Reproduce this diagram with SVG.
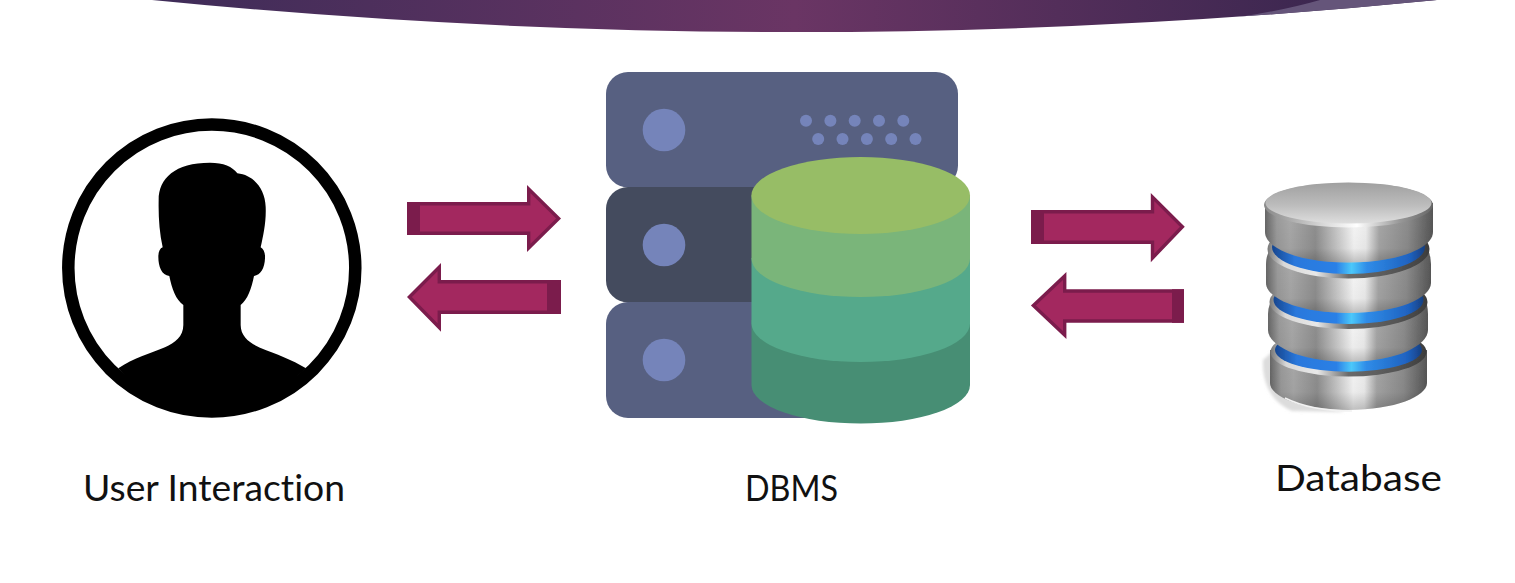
<svg xmlns="http://www.w3.org/2000/svg" width="1515" height="583" viewBox="0 0 1515 583">
<style>
.label{font-family:"Lato","Liberation Sans",sans-serif;font-size:36px;fill:#111;font-variant-ligatures:none}
.arrow{fill:#a3285f;stroke:#7b1c4c;stroke-width:3.4;stroke-linejoin:miter;stroke-miterlimit:6}
.block{fill:#7b1c4c}
.srv{fill:#576081}
.srvd{fill:#444b5e}
.led{fill:#7584ba}
.metal{fill:url(#metal)}
.blue{fill:url(#blue)}
.rim{fill:url(#rim)}
.shade{fill:url(#shade)}
</style>
<defs>
<linearGradient id="band" gradientUnits="userSpaceOnUse" x1="152" y1="0" x2="1320" y2="0">
<stop offset="0" stop-color="#3e2c58"/><stop offset=".55" stop-color="#6a3564"/><stop offset="1" stop-color="#3c2750"/>
</linearGradient>
<clipPath id="bandclip"><path d="M152,0 Q795,64 1437,0 Z"/></clipPath>
<linearGradient id="metal" x1="0" x2="1" y1="0" y2="0">
<stop offset="0" stop-color="#666"/><stop offset=".07" stop-color="#9a9a9a"/><stop offset=".15" stop-color="#a8a8a8"/><stop offset=".3" stop-color="#8f8f8f"/><stop offset=".42" stop-color="#c4c4c4"/><stop offset=".53" stop-color="#f6f6f6"/><stop offset=".6" stop-color="#eeeeee"/><stop offset=".68" stop-color="#a6a6a6"/><stop offset=".85" stop-color="#8c8c8c"/><stop offset="1" stop-color="#565656"/>
</linearGradient>
<linearGradient id="shade" x1="0" x2="0" y1="0" y2="1">
<stop offset="0" stop-color="#000" stop-opacity="0"/><stop offset=".7" stop-color="#000" stop-opacity=".04"/><stop offset="1" stop-color="#000" stop-opacity=".22"/>
</linearGradient>
<linearGradient id="blue" x1="0" x2="1" y1="0" y2="0">
<stop offset="0" stop-color="#17468f"/><stop offset=".15" stop-color="#2a78dc"/><stop offset=".42" stop-color="#2b80e6"/><stop offset=".52" stop-color="#4cc8fa"/><stop offset=".62" stop-color="#2f8ce8"/><stop offset=".9" stop-color="#1f62c0"/><stop offset="1" stop-color="#173f80"/>
</linearGradient>
<linearGradient id="rim" x1="0" x2="1" y1="0" y2="0">
<stop offset="0" stop-color="#777"/><stop offset=".1" stop-color="#d8d8d8"/><stop offset=".3" stop-color="#e8e8e8"/><stop offset=".5" stop-color="#6a6a6a"/><stop offset=".8" stop-color="#555"/><stop offset="1" stop-color="#3c3c3c"/>
</linearGradient>
<linearGradient id="disk" x1="0" x2="0" y1="0" y2="1">
<stop offset="0" stop-color="#a0a0a0"/><stop offset=".55" stop-color="#bcbcbc"/><stop offset="1" stop-color="#dedede"/>
</linearGradient>
<linearGradient id="diskrim" x1="0" x2="1" y1="0" y2="0">
<stop offset="0" stop-color="#888"/><stop offset=".35" stop-color="#d8d8d8"/><stop offset=".55" stop-color="#ffffff"/><stop offset=".8" stop-color="#999"/><stop offset="1" stop-color="#666"/>
</linearGradient>
<filter id="soft" x="-5%" y="-5%" width="110%" height="110%"><feGaussianBlur stdDeviation=".7"/></filter>
<filter id="softer" x="-10%" y="-10%" width="120%" height="120%"><feGaussianBlur stdDeviation="1.500"/></filter>
</defs>

<rect width="1515" height="583" fill="#fff"/>

<g id="banner">
<path d="M152,0 Q795,64 1437,0 Z" fill="url(#band)"/>
<path clip-path="url(#bandclip)" d="M1320,0 Q1275,13 1205,22 L1300,30 L1500,0 Z" fill="#65557a"/>
</g>

<g id="node-user">
<circle cx="211.800" cy="268" r="143.500" fill="#fff" stroke="#000" stroke-width="12.500"/>
<path transform="translate(50 110) scale(.33333)" fill="#000" d="M205,775 C250,745 300,730 345,712 C375,698 400,680 400,645 L400,585 C378,570 365,535 358,498 C335,495 325,470 325,440 C325,425 330,415 338,412 C328,365 325,320 326,270 C326,205 375,158 480,158 C520,158 548,170 562,190 C610,195 645,235 647,290 C649,335 640,375 632,412 C642,418 646,430 645,445 C644,475 632,495 612,498 C605,535 592,570 572,585 L572,645 C572,680 600,700 630,713 C680,733 725,748 768,775 C680,860 580,920 485,920 C380,920 280,860 205,775 Z"/>
<text class="label" x="83" y="501" textLength="262" lengthAdjust="spacingAndGlyphs">User Interaction</text>
</g>

<g id="node-dbms">
<rect class="srv" x="606" y="72" width="352" height="115.500" rx="22"/>
<rect class="srvd" x="606" y="187" width="352" height="115.500" rx="22"/>
<path class="srv" d="M628,302 H860 V418 H628 A22,22 0 0 1 606,396 V324 A22,22 0 0 1 628,302 Z"/>
<circle class="led" cx="664" cy="130" r="21.300"/>
<circle class="led" cx="664" cy="245" r="21.300"/>
<circle class="led" cx="664" cy="360" r="21.300"/>
<g class="led">
<circle cx="806" cy="120.700" r="6"/><circle cx="830.400" cy="120.700" r="6"/><circle cx="854.700" cy="120.700" r="6"/><circle cx="879" cy="120.700" r="6"/><circle cx="903.300" cy="120.700" r="6"/>
<circle cx="818.200" cy="139" r="6"/><circle cx="842.500" cy="139" r="6"/><circle cx="866.900" cy="139" r="6"/><circle cx="891.200" cy="139" r="6"/><circle cx="915.500" cy="139" r="6"/>
</g>
<path fill="#478e74" d="M751.500,320 H970 V385 A109,38.500 0 0 1 751.500,385 Z"/>
<path fill="#55a98b" d="M751.500,258 H970 V323.500 A109,38.500 0 0 1 751.500,323.500 Z"/>
<path fill="#7ab57a" d="M751.500,195.500 H970 V258.500 A109,38.500 0 0 1 751.500,258.500 Z"/>
<ellipse fill="#97bd66" cx="860.700" cy="195.500" rx="109.300" ry="38.500"/>
<text class="label" x="745" y="501" textLength="93" lengthAdjust="spacingAndGlyphs">DBMS</text>
</g>

<g id="node-database">
<g filter="url(#soft)">
<path fill="#dcdcdc" filter="url(#softer)" d="M1263,360 L1272,352 L1300,400 L1345,412 L1292,411 C1272,402 1262,385 1263,360 Z"/>
<path class="metal" d="M1270,350 H1427 V383 C1427,396 1395,410 1348,410 C1300,410 1270,396 1270,383 Z"/>
<path class="shade" d="M1270,350 H1427 V383 C1427,396 1395,410 1348,410 C1300,410 1270,396 1270,383 Z"/>
<path fill="none" stroke="#f2f2f2" stroke-width="1.500" d="M1285,398 C1305,408 1330,411 1352,411"/>
<ellipse class="rim" cx="1348.500" cy="352" rx="78" ry="24.500"/>
<ellipse class="blue" cx="1348.500" cy="350" rx="73.500" ry="21.700"/>
<path class="metal" d="M1274,298 H1424 Q1428,304 1428,314 V330 C1428,345 1398,361.700 1348,361.700 C1298,361.700 1268,345 1268,330 V314 Q1268,304 1274,298 Z"/>
<path class="shade" d="M1268,314 H1428 V330 C1428,345 1398,361.700 1348,361.700 C1298,361.700 1268,345 1268,330 Z"/>
<ellipse class="rim" cx="1348.500" cy="302" rx="79" ry="27"/>
<ellipse class="blue" cx="1348.500" cy="300" rx="75" ry="24"/>
<path class="metal" d="M1272,247 H1426 Q1431,254 1431,264 V283 C1431,298 1398,313 1348,313 C1298,313 1266,298 1266,283 V264 Q1266,254 1272,247 Z"/>
<path class="shade" d="M1266,264 H1431 V283 C1431,298 1398,313 1348,313 C1298,313 1266,298 1266,283 Z"/>
<ellipse class="rim" cx="1348.500" cy="249" rx="81" ry="29.500"/>
<ellipse class="blue" cx="1348.500" cy="247" rx="76.500" ry="27"/>
<path class="metal" d="M1265,203 H1433 V232 C1433,248 1398,262.500 1348,262.500 C1298,262.500 1265,248 1265,232 Z"/>
<path class="shade" d="M1265,215 H1433 V232 C1433,248 1398,262.500 1348,262.500 C1298,262.500 1265,248 1265,232 Z"/>
<ellipse fill="url(#diskrim)" cx="1348.500" cy="205" rx="84.500" ry="22.500"/>
<ellipse fill="url(#disk)" cx="1348.500" cy="203" rx="83" ry="20.500"/>
</g>
<text class="label" x="1275" y="491" textLength="167" lengthAdjust="spacingAndGlyphs">Database</text>
</g>

<g id="connectors">
<polygon class="arrow" points="408.700,203.700 528.700,203.700 528.700,189 558.600,218.500 528.700,248 528.700,233.300 408.700,233.300"/>
<rect class="block" x="407" y="202" width="13" height="33"/>
<polygon class="arrow" points="559.300,281.700 439.300,281.700 439.300,267 409.400,297 439.300,327.500 439.300,312.300 559.300,312.300"/>
<rect class="block" x="547" y="280" width="14" height="34"/>
<polygon class="arrow" points="1032.700,211.700 1152.500,211.700 1152.500,197 1182.400,226.700 1152.500,258 1152.500,242.300 1032.700,242.300"/>
<rect class="block" x="1031" y="210" width="13" height="34"/>
<polygon class="arrow" points="1182.300,291 1064.700,291 1064.700,276 1033.400,305.500 1064.700,335 1064.700,321 1182.300,321"/>
<rect class="block" x="1172" y="289.300" width="12" height="33.500"/>
</g>
</svg>
